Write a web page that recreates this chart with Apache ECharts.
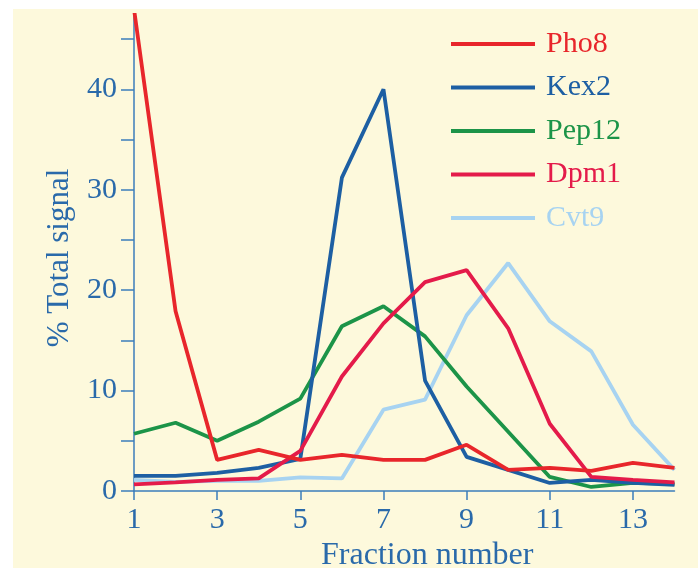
<!DOCTYPE html>
<html>
<head>
<meta charset="utf-8">
<script src="https://cdn.jsdelivr.net/npm/echarts@6/dist/echarts.min.js"></script>
<style>
html,body{margin:0;padding:0;background:#ffffff;}
#chart{width:698px;height:568px;}
</style>
</head>
<body>
<div id="chart"></div>
<script>
var fractions = [1,2,3,4,5,6,7,8,9,10,11,12,13,14];
var pho8  = [48, 17.9, 3.1, 4.1, 3.1, 3.6, 3.1, 3.1, 4.6, 2.1, 2.3, 2.0, 2.8, 2.3];
var kex2  = [1.5, 1.5, 1.8, 2.3, 3.2, 31.2, 40.0, 11.0, 3.4, 2.1, 0.8, 1.1, 0.8, 0.6];
var pep12 = [5.7, 6.8, 5.0, 6.9, 9.2, 16.4, 18.4, 15.4, 10.4, 5.9, 1.4, 0.4, 0.8, 0.7];
var dpm1  = [0.65, 0.85, 1.1, 1.25, 4.0, 11.4, 16.7, 20.8, 22.0, 16.2, 6.7, 1.4, 1.1, 0.85];
var cvt9  = [1.1, 0.9, 1.0, 1.0, 1.35, 1.25, 8.1, 9.1, 17.5, 22.7, 16.9, 13.9, 6.6, 2.1];
var xTicks = [1,3,5,7,9,11,13];
var yLabels = [0,10,20,30,40];
var yTicks = [0,5,10,15,20,25,30,35,40,45];
var names = ['Pho8','Kex2','Pep12','Dpm1','Cvt9'];
var colors = {Pho8:'#e8262b', Kex2:'#1d5fa3', Pep12:'#1c9448', Dpm1:'#e41b4a', Cvt9:'#a7d3f1'};
var values = {Pho8:pho8, Kex2:kex2, Pep12:pep12, Dpm1:dpm1, Cvt9:cvt9};
var drawOrder = ['Cvt9','Pep12','Kex2','Dpm1','Pho8'];

var axisColor = '#3b7dbb';
var textColor = '#2a6aaa';
var font = 'Liberation Serif';

function pairs(arr){ return fractions.map(function(f,i){ return [f, arr[i]]; }); }

var chart = echarts.init(document.getElementById('chart'), null, {renderer:'canvas'});
chart.setOption({
  animation: false,
  backgroundColor: '#ffffff',
  graphic: [{
    type: 'rect', z: -10, silent: true,
    shape: {x: 13, y: 9, width: 698, height: 568},
    style: {fill: '#fdf9dc'}
  }],
  grid: {left: 134, top: 15, right: 23.5, bottom: 77, containLabel: false, outerBoundsMode: 'none'},
  legend: {
    orient: 'vertical',
    left: 446, top: 24,
    itemWidth: 84, itemHeight: 4,
    itemGap: 13.5,
    icon: 'rect',
    data: names.map(function(n){ return {name: n, textStyle: {color: colors[n]}}; }),
    textStyle: {fontFamily: font, fontSize: 30, lineHeight: 30, padding: [0,0,0,6]}
  },
  xAxis: {
    type: 'value', min: 1, max: 14,
    name: 'Fraction number', nameLocation: 'middle', nameGap: 39,
    nameTextStyle: {fontFamily: font, fontSize: 32, color: textColor, padding: [0,0,0,46]},
    axisLine: {show: true, lineStyle: {color: axisColor, width: 1.5}},
    axisTick: {show: true, length: 9, lineStyle: {color: axisColor, width: 1.5}, customValues: xTicks},
    axisLabel: {fontFamily: font, fontSize: 30, color: textColor, margin: 14, customValues: xTicks},
    splitLine: {show: false}
  },
  yAxis: {
    type: 'value', min: 0, max: 47.4,
    name: '% Total signal', nameLocation: 'middle', nameGap: 59, nameRotate: 90,
    nameTextStyle: {fontFamily: font, fontSize: 31, color: textColor, padding: [0,10,0,0]},
    axisLine: {show: true, lineStyle: {color: axisColor, width: 1.5}},
    axisTick: {show: true, length: 13, lineStyle: {color: axisColor, width: 1.5}, customValues: yTicks},
    axisLabel: {fontFamily: font, fontSize: 30, color: textColor, margin: 17, customValues: yLabels},
    splitLine: {show: false}
  },
  series: drawOrder.map(function(n){
    return {
      name: n, type: 'line', data: pairs(values[n]),
      showSymbol: false, symbol: 'none', clip: true,
      lineStyle: {color: colors[n], width: 3.8},
      itemStyle: {color: colors[n]}
    };
  })
});
</script>
</body>
</html>
